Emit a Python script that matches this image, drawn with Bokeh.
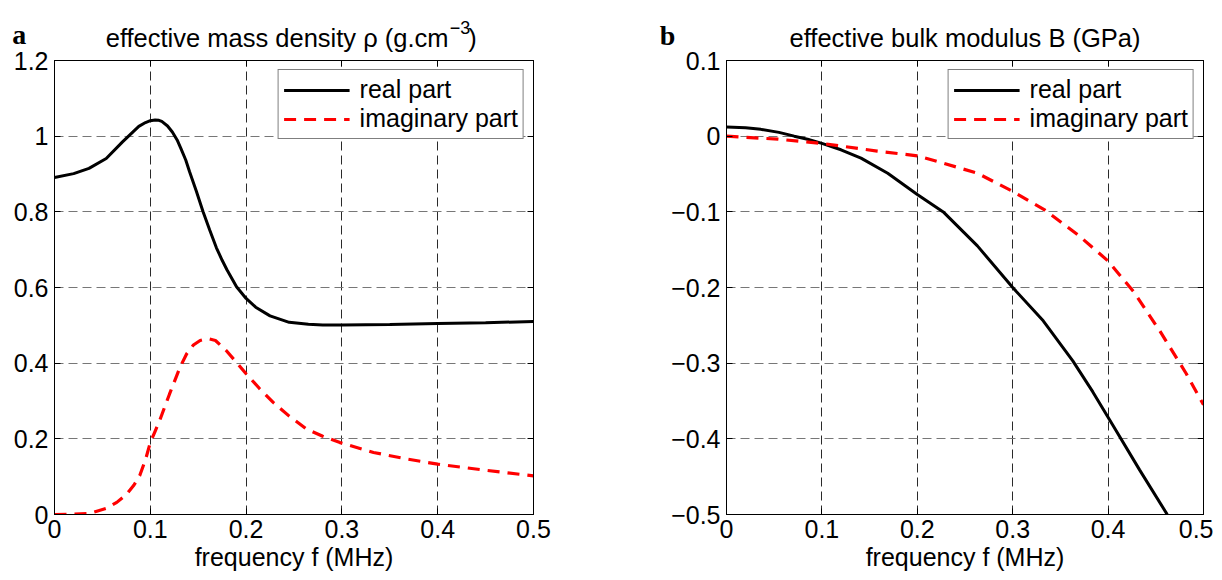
from bokeh.plotting import figure
from bokeh.layouts import row
from bokeh.models import (Legend, LegendItem, Label, LinearAxis, FixedTicker,
                          Range1d, CustomJSTickFormatter)
from bokeh.embed import file_html
from bokeh.resources import INLINE

FONT = "Liberation Sans"
FS = "25px"
TFS = "25.5px"

# ---------------- data ----------------
x_ticks = [0, 0.1, 0.2, 0.3, 0.4, 0.5]
x_tick_labels = ["0", "0.1", "0.2", "0.3", "0.4", "0.5"]

rho_y_ticks = [0, 0.2, 0.4, 0.6, 0.8, 1.0, 1.2]
rho_y_labels = ["0", "0.2", "0.4", "0.6", "0.8", "1", "1.2"]

bulk_y_ticks = [-0.5, -0.4, -0.3, -0.2, -0.1, 0, 0.1]
bulk_y_labels = ["\u22120.5", "\u22120.4", "\u22120.3", "\u22120.2", "\u22120.1", "0", "0.1"]

rho_real_f = [0, 0.02, 0.036, 0.054, 0.071, 0.088, 0.095, 0.1, 0.105, 0.109, 0.112, 0.118,
              0.123, 0.128, 0.132, 0.137, 0.141, 0.148, 0.155, 0.162, 0.169, 0.175, 0.18,
              0.19, 0.2, 0.21, 0.225, 0.245, 0.265, 0.28, 0.3, 0.35, 0.4, 0.45, 0.5]
rho_real = [0.891, 0.901, 0.915, 0.941, 0.985, 1.026, 1.036, 1.041, 1.043, 1.042, 1.039,
            1.027, 1.011, 0.99, 0.967, 0.937, 0.906, 0.855, 0.801, 0.752, 0.705, 0.672,
            0.647, 0.602, 0.571, 0.548, 0.525, 0.508, 0.503, 0.501, 0.501, 0.502, 0.505,
            0.507, 0.510]

rho_imag_f = [0, 0.02, 0.037, 0.054, 0.065, 0.075, 0.083, 0.089, 0.095, 0.1, 0.105, 0.11,
              0.12, 0.131, 0.138, 0.145, 0.152, 0.16, 0.168, 0.179, 0.19, 0.2, 0.214,
              0.228, 0.245, 0.263, 0.28, 0.298, 0.333, 0.365, 0.4, 0.45, 0.5]
rho_imag = [0, 0.001, 0.003, 0.016, 0.032, 0.053, 0.078, 0.103, 0.145, 0.19, 0.22, 0.25,
            0.318, 0.389, 0.425, 0.448, 0.46, 0.465, 0.46, 0.434, 0.402, 0.372, 0.333,
            0.297, 0.26, 0.226, 0.207, 0.19, 0.164, 0.148, 0.133, 0.117, 0.102]

bulk_real_f = [0, 0.02, 0.036, 0.055, 0.071, 0.085, 0.1, 0.12, 0.141, 0.169, 0.2, 0.228,
               0.263, 0.3, 0.332, 0.363, 0.384, 0.405, 0.433, 0.462]
bulk_real = [0.012, 0.011, 0.009, 0.005, 0.0, -0.004, -0.0096, -0.018, -0.029, -0.049,
             -0.077, -0.101, -0.145, -0.2, -0.244, -0.297, -0.338, -0.382, -0.441, -0.5]

bulk_imag_f = [0, 0.054, 0.1, 0.158, 0.2, 0.228, 0.263, 0.3, 0.333, 0.368, 0.4, 0.427,
               0.454, 0.482, 0.5]
bulk_imag = [0, -0.004, -0.0096, -0.0197, -0.026, -0.036, -0.049, -0.073, -0.097, -0.13,
             -0.165, -0.206, -0.257, -0.314, -0.355]

# title of panel a is made of three pieces (text, superscript, closing bracket)
title_a_parts = ["effective mass density \u03c1 (g.cm", "\u22123", ")"]
title_b = "effective bulk modulus B (GPa)"
x_label = "frequency f (MHz)"
panel_letters = ["a", "b"]
legend_labels = ["real part", "imaginary part"]


def text_label(x, y, text, size, align, font=FONT, style="normal"):
    return Label(x=x, y=y, text=text, text_font=font, text_font_style=style,
                 text_font_size=size, text_color="black",
                 text_align=align, text_baseline="alphabetic")


def make_panel(yr, yticks, ylabels, fr, vr, fi, vi, bl, br, fw):
    p = figure(frame_width=fw, frame_height=454,
               min_border_left=bl, min_border_right=br,
               min_border_top=60, min_border_bottom=56,
               x_range=Range1d(0, 0.5), y_range=Range1d(*yr),
               output_backend="svg", toolbar_location=None,
               background_fill_color="white", border_fill_color="white")
    p.outline_line_color = "black"
    p.outline_line_width = 1
    p.title.text = ""

    xt = FixedTicker(ticks=x_ticks)
    yt = FixedTicker(ticks=yticks)
    p.xaxis.ticker = xt
    p.yaxis.ticker = yt
    p.xaxis.major_label_overrides = dict(zip(x_ticks, x_tick_labels))
    p.yaxis.major_label_overrides = dict(zip(yticks, ylabels))
    p.xaxis.axis_label = x_label
    for ax in (p.xaxis[0], p.yaxis[0]):
        ax.major_tick_in = 6
        ax.major_tick_out = 0
        ax.minor_tick_in = 0
        ax.minor_tick_out = 0
        ax.axis_line_color = "black"
        ax.major_tick_line_color = "black"
        ax.major_label_text_font = FONT
        ax.major_label_text_font_size = FS
        ax.major_label_text_color = "black"
        ax.axis_label_text_font = FONT
        ax.axis_label_text_font_size = FS
        ax.axis_label_text_font_style = "normal"
        ax.axis_label_text_color = "black"
    p.xaxis.major_label_standoff = 5
    p.xaxis.axis_label_standoff = 2
    p.yaxis.major_label_standoff = 6

    # ticks on top and right edges (box style)
    for side, tk in (("above", xt), ("right", yt)):
        ax = LinearAxis(ticker=tk, formatter=CustomJSTickFormatter(code="return ''"),
                        major_tick_in=6, major_tick_out=0, minor_tick_in=0,
                        minor_tick_out=0, major_label_standoff=0,
                        axis_line_color="black", major_tick_line_color="black",
                        major_label_text_font_size="1px")
        p.add_layout(ax, side)

    p.xgrid.grid_line_color = "#2a2a2a"
    p.ygrid.grid_line_color = "#777777"
    for g in (p.xgrid[0], p.ygrid[0]):
        g.grid_line_width = 1
        g.grid_line_dash = "9 5"
    p.xgrid.ticker = xt
    p.ygrid.ticker = yt

    r1 = p.line(fr, vr, line_color="black", line_width=3)
    r2 = p.line(fi, vi, line_color="#ff0000", line_width=3.2, line_dash="12 8")

    leg = Legend(items=[LegendItem(label=legend_labels[0], renderers=[r1]),
                        LegendItem(label=legend_labels[1], renderers=[r2])],
                 location="top_right", margin=9, padding=5, spacing=0,
                 glyph_width=66, glyph_height=24, label_height=24, label_standoff=10,
                 label_text_font=FONT, label_text_font_size=FS,
                 label_text_color="black",
                 border_line_color="black", border_line_width=1,
                 background_fill_color="white", background_fill_alpha=1)
    p.add_layout(leg)
    return p


p1 = make_panel((0, 1.2), rho_y_ticks, rho_y_labels,
                rho_real_f, rho_real, rho_imag_f, rho_imag, 54, 110, 479)
p2 = make_panel((-0.5, 0.1), bulk_y_ticks, bulk_y_labels,
                bulk_real_f, bulk_real, bulk_imag_f, bulk_imag, 83, 10, 477)

# titles and panel letters, drawn outside the frames (side panels with spare room)
p1.add_layout(text_label(0.4113, 1.2601, title_a_parts[0], TFS, "right"), "above")
p1.add_layout(text_label(0.4125, 1.2880, title_a_parts[1], "18px", "left"), "right")
p1.add_layout(text_label(0.4320, 1.2601, title_a_parts[2], TFS, "left"), "right")
p1.add_layout(text_label(-0.044, 1.2700, panel_letters[0], "28px", "left",
                         font="Liberation Serif", style="bold"), "right")

p2.add_layout(text_label(0.25, 0.1300, title_b, TFS, "center"), "above")
p2.add_layout(text_label(-0.070, 0.1331, panel_letters[1], "28px", "left",
                         font="Liberation Serif", style="bold"), "left")

layout = row(p1, p2)
open("out.html", "w").write(file_html(layout, INLINE))
